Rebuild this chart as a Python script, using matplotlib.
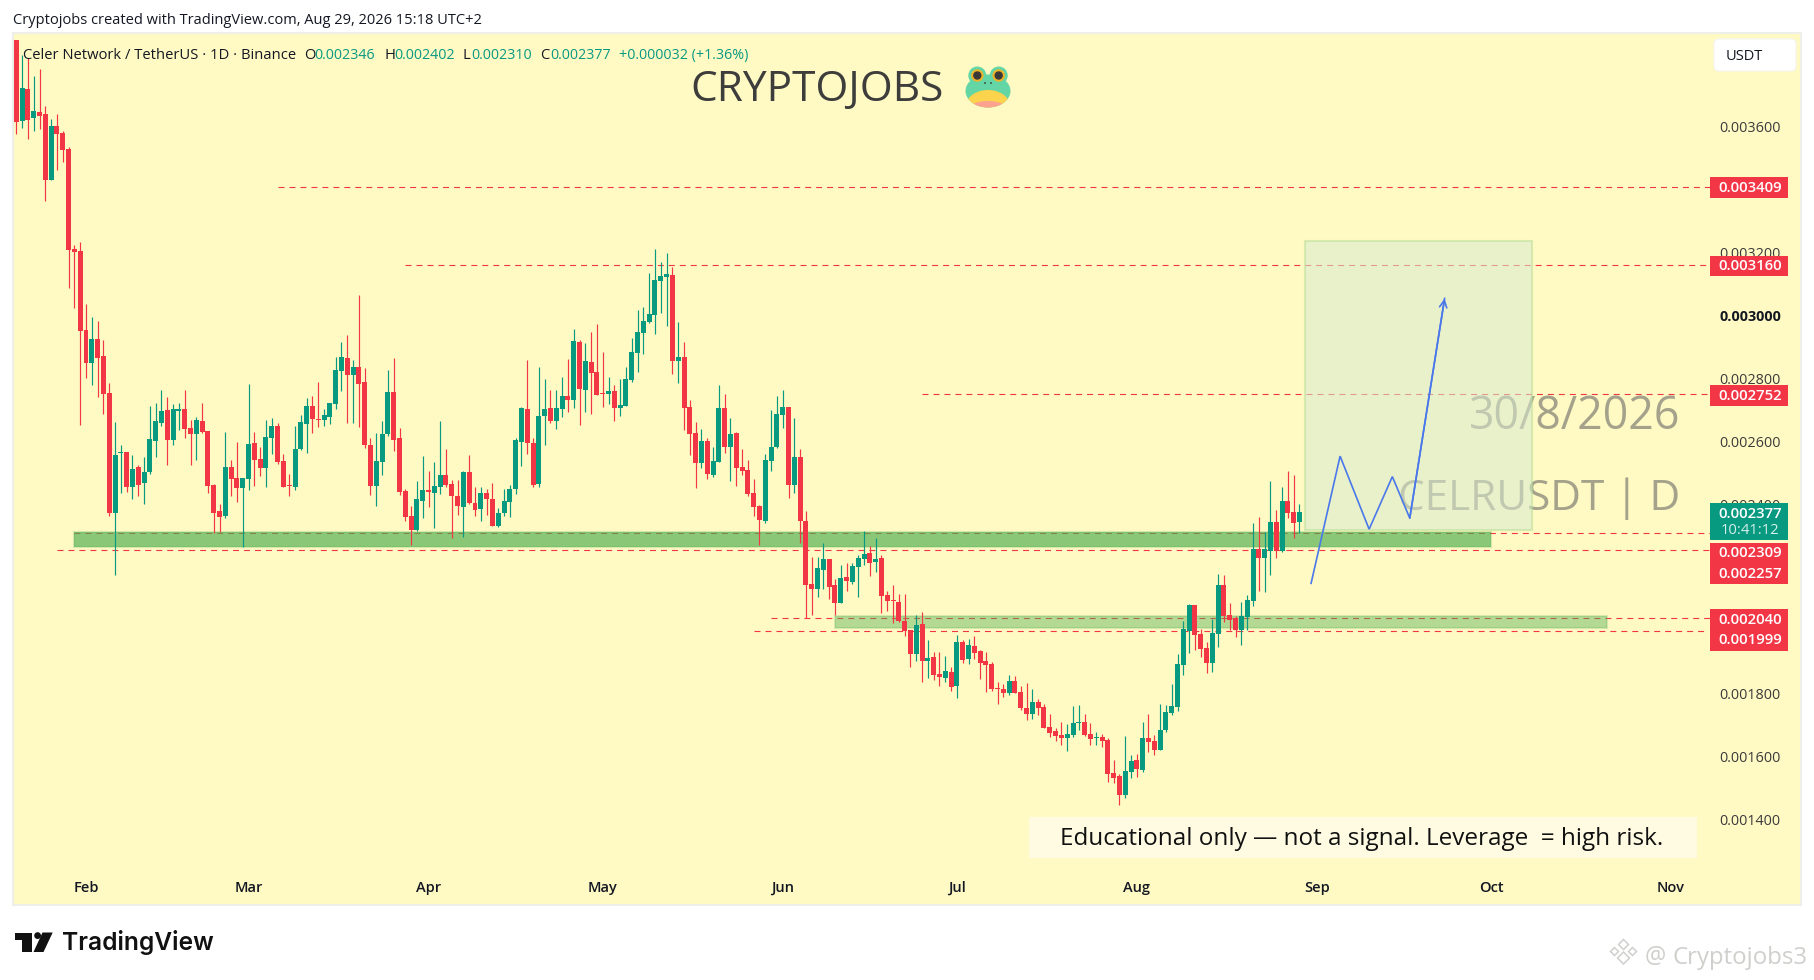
import numpy as np
import pandas as pd
import matplotlib
matplotlib.use("Agg")
import matplotlib.pyplot as plt
import matplotlib.dates as mdates
from matplotlib.patches import Rectangle, FancyBboxPatch, Circle, Ellipse, Polygon, RegularPolygon

plt.rcParams['lines.scale_dashes'] = False
plt.rcParams['font.family'] = ['Open Sans', 'DejaVu Sans']

# ---------- data (prices in millionths of USDT) ----------
start_date = '2026-01-20'
opens = [3876,3619,3720,3628,3647,3641,3431,3602,3580,3529,3212,3206,
 2955,2851,2926,2872,2755,2375,2564,2567,
 2456,2520,2469,2504,2602,2659,2701,2605,2697,2704,
 2643,2624,2666,2634,2462,2380,2364,2520,2485,2453,
 2482,2596,2545,2516,2612,2650,2539,2462,2456,2577,
 2656,2713,2672,2669,2678,2720,2824,2866,2812,2837,
 2790,2589,2459,2536,2624,2758,2612,2443,2364,2320,
 2412,2447,2437,2456,2494,
 2466,2428,2393,2504,2405,
 2386,2437,2418,2332,2374,2408,2450,2599,2704,2596,
 2466,2682,2707,2666,2704,2745,2732,2917,2764,2853,
 2821,2755,2751,2761,2707,2713,2796,2882,2945,2980,
 3002,3110,3123,3129,2856,2869,2710,2628,2532,2602,
 2494,2536,2707,2583,2628,2520,2510,2437,2396,2348,
 2539,2583,2685,2710,2462,2551,
 2348,
 2148,2132,2193,2227,2145,2088,2170,2154,2202,2227,2247,2218,2231,
 2113,2097,2091,2031,2002,1926,2021,1904,1916,1862,
 1850,1869,1824,1964,1910,1951,1935,1904,1894,1818,
 1815,1802,1840,1805,1754,1735,1773,1757,1694,1681,
 1669,1659,1669,1707,1710,1672,1659,1662,1653,1548,
 1538,1478,1551,1589,1557,1659,1650,1621,1684,1738,
 1757,1891,1999,2081,1989,1945,1897,1989,2145,2050,
 2040,2002,2043,2094,2259,2231,2253,2345,2253,2412,2377,2346]
highs = [3876,3828,3817,3761,3783,3666,3625,3641,3587,3536,3225,3234,
 3037,2996,2983,2923,2786,2663,2589,2567,
 2558,2526,2551,2713,2723,2764,2742,2720,2723,2764,
 2669,2678,2723,2634,2466,2402,2631,2542,2599,2485,
 2783,2631,2583,2669,2675,2659,2561,2497,2650,2685,
 2739,2745,2790,2704,2723,2869,2917,2939,2859,3066,
 2834,2612,2628,2666,2828,2866,2643,2450,2396,2475,
 2555,2507,2536,2666,2577,
 2478,2478,2507,2558,2456,
 2456,2450,2469,2389,2450,2462,2612,2710,2859,2612,
 2837,2799,2764,2764,2805,2863,2958,2923,2913,2948,
 2974,2885,2805,2780,2799,2837,2929,3018,3028,3136,
 3212,3171,3199,3155,2980,2917,2732,2663,2640,2612,
 2583,2780,2751,2675,2631,2577,2542,2482,2399,2561,
 2701,2745,2764,2710,2675,2577,
 2380,
 2234,2234,2278,2227,2164,2208,2215,2215,2240,2316,2269,2294,2240,
 2126,2145,2116,2116,2002,2050,2059,1970,1932,1932,
 1919,1885,1986,1970,1973,1983,1938,1932,1900,1837,
 1831,1859,1856,1824,1834,1815,1783,1767,1735,1691,
 1710,1704,1761,1764,1735,1707,1678,1672,1659,1589,
 1545,1665,1605,1608,1710,1735,1669,1767,1764,1831,
 1926,2031,2085,2081,2005,1964,2037,2180,2177,2088,
 2047,2091,2113,2342,2361,2313,2475,2383,2456,2507,2494,2402]
lows = [3577,3596,3561,3587,3593,3364,3431,3463,3488,3088,3025,2653,
 2802,2780,2742,2688,2364,2177,2437,2440,
 2418,2428,2402,2497,2551,2650,2526,2589,2637,2612,
 2526,2542,2628,2437,2309,2312,2358,2428,2408,2266,
 2447,2459,2491,2456,2561,2529,2456,2428,2447,2574,
 2564,2628,2647,2650,2656,2704,2761,2659,2659,2648,
 2580,2431,2396,2494,2618,2570,2431,2348,2272,2316,
 2358,2393,2326,2434,2456,
 2294,2367,2297,2402,2364,
 2348,2367,2332,2329,2364,2361,2434,2523,2561,2456,
 2456,2589,2659,2640,2678,2694,2707,2653,2694,2688,
 2748,2710,2720,2666,2682,2713,2790,2821,2878,2977,
 2942,3009,2967,2815,2786,2637,2558,2453,2516,2482,
 2488,2536,2564,2475,2459,2494,2428,2364,2272,2342,
 2507,2580,2643,2421,2437,2278,
 2039,
 2050,2107,2132,2100,2050,2088,2126,2148,2107,2208,2174,2186,2056,
 2062,2024,2027,1983,1885,1904,1837,1850,1843,1824,
 1837,1808,1786,1897,1894,1910,1846,1805,1808,1767,
 1789,1796,1802,1748,1716,1719,1732,1691,1662,1650,
 1637,1618,1662,1684,1665,1637,1637,1630,1519,1516,
 1446,1469,1532,1535,1551,1615,1605,1621,1678,1732,
 1745,1859,1929,1938,1916,1865,1869,1948,2027,2002,
 1980,1954,2002,2078,2126,2123,2177,2231,2250,2358,2294,2310]
closes = [3616,3723,3622,3650,3634,3431,3602,3577,3526,3209,3202,2952,
 2851,2926,2867,2751,2375,2558,2567,2456,
 2513,2462,2504,2609,2666,2697,2605,2704,2704,2640,
 2624,2669,2631,2459,2374,2361,2520,2482,2453,2485,
 2593,2542,2516,2615,2650,2536,2456,2459,2577,2663,
 2713,2672,2669,2685,2723,2828,2869,2812,2837,2783,
 2589,2459,2539,2624,2758,2605,2440,2361,2320,2418,
 2447,2440,2459,2494,2462,
 2428,2396,2504,2405,2383,
 2437,2418,2332,2374,2412,2450,2605,2707,2596,2462,
 2682,2704,2666,2707,2745,2732,2920,2767,2856,2818,
 2748,2751,2761,2707,2717,2799,2885,2948,2983,3006,
 3113,3126,3133,2856,2869,2707,2624,2532,2602,2497,
 2539,2707,2583,2624,2516,2507,2434,2393,2351,2542,
 2583,2688,2710,2462,2551,2348,
 2145,
 2132,2199,2227,2139,2088,2167,2158,2205,2231,2243,2215,2227,2110,
 2094,2094,2031,1999,1926,2018,1904,1913,1859,1853,
 1872,1821,1964,1907,1954,1929,1897,1891,1815,1815,
 1802,1840,1802,1754,1735,1773,1754,1691,1675,1665,
 1659,1672,1707,1710,1669,1656,1662,1650,1545,1532,
 1478,1554,1586,1561,1659,1646,1621,1684,1742,1761,
 1894,2005,2081,1986,1942,1897,1992,2145,2047,2034,
 2002,2047,2097,2259,2231,2259,2345,2253,2412,2374,2342,2377]

month_ticks = ['2026-02-01','2026-03-01','2026-04-01','2026-05-01','2026-06-01',
               '2026-07-01','2026-08-01','2026-09-01','2026-10-01','2026-11-01']
month_labels = ['Feb','Mar','Apr','May','Jun','Jul','Aug','Sep','Oct','Nov']
price_ticks = [1400,1600,1800,2000,2200,2400,2600,2800,3000,3200,3400,3600]

level_prices = [3409,3160,2752,2309,2257,2040,1999]
level_starts = ['2026-03-06','2026-03-28','2026-06-25','2026-01-30','2026-01-27','2026-05-30','2026-05-27']
level_ends   = ['2026-11-08','2026-11-08','2026-11-08','2026-11-08','2026-11-08','2026-11-08','2026-11-07']

path_dates  = ['2026-08-31','2026-09-05','2026-09-10','2026-09-14','2026-09-17','2026-09-23']
path_prices = [2150,2554,2322,2489,2357,3055]

# ---------- layout ----------
W, H = 1814, 980
BG = '#FFF9C4'
GREEN, RED = '#089981', '#F23645'
INK = '#131722'
fig = plt.figure(figsize=(W/100, H/100), dpi=100, facecolor='white')
L, R, T, B = 13, 1801, 33, 905
ax = fig.add_axes([L/W, 1-B/H, (R-L)/W, (B-T)/H], facecolor=BG, zorder=1)
ov = fig.add_axes([0, 0, 1, 1], facecolor='none', zorder=5)
ov.set_xlim(0, W); ov.set_ylim(H, 0); ov.axis('off')

num = lambda s: mdates.date2num(pd.Timestamp(s))
feb1 = num('2026-02-01')
ax.set_xlim(feb1 + (L-86)/5.806, feb1 + (R-86)/5.806)
ax.set_ylim(2309-(B-533.3)/0.3149, 2309+(533.3-T)/0.3149)

# candles
dates = mdates.date2num(pd.date_range(start_date, periods=len(opens)))
o, h, l, c = map(np.array, (opens, highs, lows, closes))
cols = [GREEN if ci >= oi else RED for oi, ci in zip(o, c)]
ax.vlines(dates, l, h, colors=cols, linewidth=0.85, zorder=3)
ax.bar(dates, np.maximum(np.abs(c-o), 3), bottom=np.minimum(o, c), width=0.86,
       color=cols, linewidth=0, zorder=3.1)

# dashed levels
for p, s, e in zip(level_prices, level_starts, level_ends):
    ax.plot([num(s), num(e)], [p, p], color=RED, lw=0.8, ls=(0, (4.3, 3.6)), zorder=1)

# zones
def zone(s, e, p0, p1, alpha, ealpha):
    ax.add_patch(Rectangle((num(s), p0), num(e)-num(s), p1-p0,
                           facecolor=(76/255, 175/255, 80/255, alpha),
                           edgecolor=(76/255, 175/255, 80/255, ealpha), lw=1.5, zorder=2))
zone('2026-01-30', '2026-10-01', 2266, 2313, 0.65, 0.22)
zone('2026-06-10', '2026-10-21', 2008, 2046, 0.42, 0.22)

# big watermark texts (beneath projection box)
ax.text(1680, 417, '30/8/2026', transform=ov.transData, ha='right', va='center',
        fontsize=32.1, color='#A5A28B', zorder=2.4, clip_on=False)
ax.text(1680, 499, 'CELRUSDT | D', transform=ov.transData, ha='right', va='center',
        fontsize=30.4, color='#A5A28B', zorder=2.4, clip_on=False)

# projection box
ax.add_patch(Rectangle((num('2026-08-30'), 2320), num('2026-10-08')-num('2026-08-30'), 3237-2320,
                       facecolor=(215/255, 235/255, 208/255, 0.55),
                       edgecolor=(180/255, 220/255, 150/255, 0.5), lw=1.5, zorder=2.6))

# projected path
path_x = [num(d) for d in path_dates]
ax.plot(path_x, path_prices, color='#4A78EA', lw=1.2, zorder=4, solid_joinstyle='miter')
ax.annotate('', xy=(path_x[-1], path_prices[-1]), xytext=(path_x[-2], path_prices[-2]),
            arrowprops=dict(arrowstyle='->', color='#4A78EA', lw=1.2, mutation_scale=13,
                            shrinkA=0, shrinkB=0), zorder=4)

# axes
ax.set_xticks([num(d) for d in month_ticks])
ax.set_xticklabels(month_labels)
ax.tick_params(axis='x', length=0, direction='in', pad=-17.5, labelsize=10.5, labelcolor=INK)
for t in ax.get_xticklabels():
    t.set_fontweight('semibold')
ax.set_yticks(price_ticks)
ax.set_yticklabels([f'{v/1e6:.6f}' for v in price_ticks])
ax.yaxis.tick_right()
ax.tick_params(axis='y', length=0, direction='in', pad=-58.5, labelsize=10.4, labelcolor='#3A3A3A')
for t, v in zip(ax.get_yticklabels(), price_ticks):
    if v == 3000:
        t.set_fontweight('bold'); t.set_color(INK)
for s in ax.spines.values():
    s.set_color('#EFEFEA'); s.set_linewidth(1.5)

# price tags
tag_y = [187.5, 266, 395.5, 552.8, 573.5, 619.6, 640.3]
for y, p in zip(tag_y, level_prices):
    ov.add_patch(Rectangle((1710, y-10.3), 78, 20.6, facecolor=RED, edgecolor='none', zorder=2))
    ov.text(1750, y, f'{p/1e6:.6f}', color='white', ha='center', va='center',
            fontsize=10.7, fontweight='semibold', zorder=3)
ov.add_patch(Rectangle((1710, 502.5), 78, 37.5, facecolor=GREEN, edgecolor='none', zorder=2))
ov.text(1750, 513.5, f'{closes[-1]/1e6:.6f}', color='white', ha='center', va='center',
        fontsize=10.7, fontweight='semibold', zorder=3)
ov.text(1750, 530, '10:41:12', color='#D5EFE9', ha='center', va='center', fontsize=10.7, zorder=3)

# USDT button
ov.add_patch(FancyBboxPatch((1718, 43), 74, 24, boxstyle='round,pad=4,rounding_size=5',
                            facecolor='white', edgecolor='#F5F5F0', lw=0.8))
ov.text(1726, 56, 'USDT', color=INK, ha='left', va='center', fontsize=10.5)

# header and legend line
ov.text(13, 21, 'Cryptojobs created with TradingView.com, Aug 29, 2026 15:18 UTC+2',
        color=INK, ha='left', va='center', fontsize=10.5)
ov.text(23, 55.5, 'Celer Network / TetherUS · 1D · Binance', color=INK, ha='left', va='center', fontsize=10.6)
legend_letters = [(304.3, 'O'), (384, 'H'), (463, 'L'), (540, 'C')]
legend_values = [(314, opens[-1]), (394, highs[-1]), (471, lows[-1]), (550, closes[-1])]
for x, s in legend_letters:
    ov.text(x, 55.5, s, color=INK, ha='left', va='center', fontsize=10.6)
for x, v in legend_values:
    ov.text(x, 55.5, f'{v/1e6:.6f}', color=GREEN, ha='left', va='center', fontsize=10.3)
ov.text(619, 55.5, '+0.000032 (+1.36%)', color=GREEN, ha='left', va='center', fontsize=10.3)

# title + frog
ov.text(690, 90, 'CRYPTOJOBS', color='#3D3D3B', ha='left', va='center', fontsize=30.5)
ov.add_patch(Ellipse((988, 91), 45, 33, facecolor='#64D6A5', edgecolor='none'))
head = Ellipse((988, 91), 45, 33, transform=ov.transData)
belly = Ellipse((988, 106), 44, 32, facecolor='#FCD34D', edgecolor='none')
ov.add_patch(belly); belly.set_clip_path(head)
pink = Ellipse((988, 112), 44, 22, facecolor='#FBA38E', edgecolor='none')
ov.add_patch(pink); pink.set_clip_path(head)
for ex in (977.3, 998.7):
    ov.add_patch(Circle((ex, 75.5), 9, facecolor='#64D6A5', edgecolor='none'))
    ov.add_patch(Circle((ex, 75.5), 6.2, facecolor='#F0B429', edgecolor='none'))
    ov.add_patch(Circle((ex, 75.5), 4.2, facecolor='#3B3A36', edgecolor='none'))
for ex in (985, 991):
    ov.add_patch(Circle((ex, 83), 0.9, facecolor='#3B3A36', edgecolor='none'))

# disclaimer
ov.add_patch(Rectangle((1029, 817), 668, 41, facecolor='#FFFBE3', edgecolor='none'))
ov.text(1362, 839, 'Educational only — not a signal. Leverage  = high risk.',
        color='#111111', ha='center', va='center', fontsize=17.5)

# footer logo
ov.add_patch(Polygon([(15, 932.5), (32, 932.5), (32, 952), (22, 952), (22, 939.5), (15, 939.5)],
                     facecolor='#111111', edgecolor='none'))
ov.add_patch(Circle((37.6, 935.6), 3.4, facecolor='#111111', edgecolor='none'))
ov.add_patch(Polygon([(42.5, 932.5), (52.7, 932.5), (43.5, 952), (33.5, 952)],
                     facecolor='#111111', edgecolor='none'))
ov.text(62, 942, 'TradingView', color='#111111', ha='left', va='center', fontsize=17.7, fontweight='semibold',
        family=['Inter', 'DejaVu Sans'])

# bottom-right watermark
wm = '#CFCFCC'
for cx, cy, r in [(1623.5, 944.5, 5), (1614.5, 951.5, 4), (1632.5, 951.5, 4), (1623.5, 958, 6)]:
    ov.add_patch(RegularPolygon((cx, cy), 4, radius=r, orientation=0, facecolor='none', edgecolor=wm, lw=1.1))
ov.text(1645, 957, '@', color=wm, ha='left', va='center', fontsize=17)
ov.text(1672, 958, 'Cryptojobs3', color=wm, ha='left', va='center', fontsize=17.3)

fig.savefig('out.png', dpi=100)
